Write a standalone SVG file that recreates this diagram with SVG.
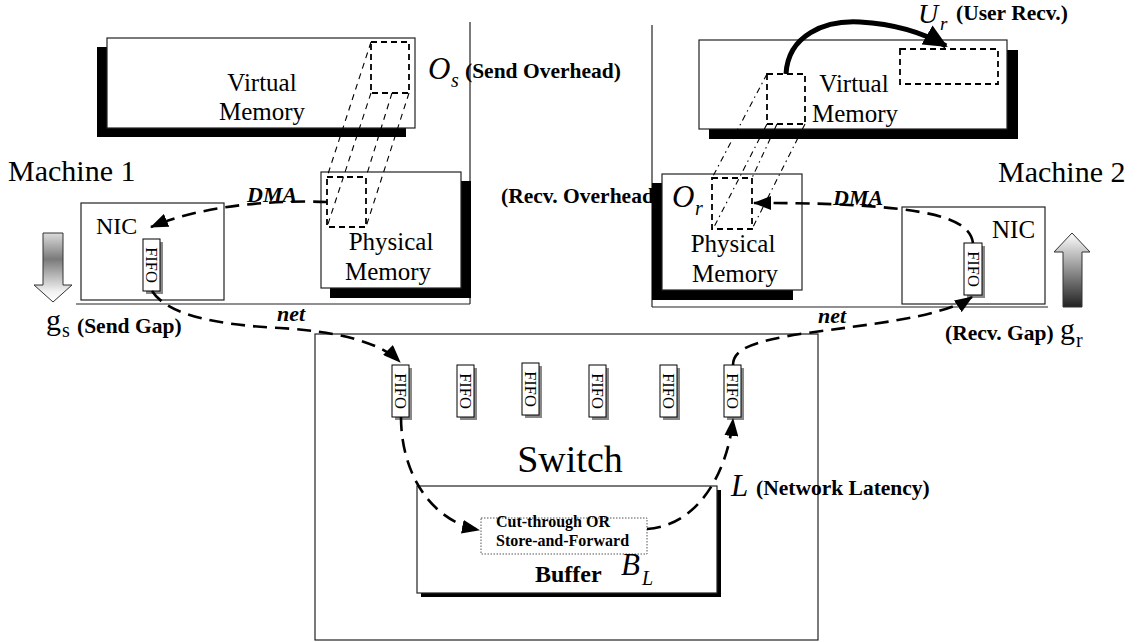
<svg xmlns="http://www.w3.org/2000/svg" width="1137" height="642" viewBox="0 0 1137 642">
<style>
.box{fill:#fff;stroke:#222;stroke-width:1.2}
.sh{fill:#000}
.rule{stroke:#222;stroke-width:1.2;fill:none}
.t{font-family:"Liberation Serif",serif;fill:#000}
.b{font-family:"Liberation Serif",serif;font-weight:bold;fill:#000}
.i{font-family:"Liberation Serif",serif;font-style:italic;fill:#000}
.bi{font-family:"Liberation Serif",serif;font-style:italic;font-weight:bold;fill:#000}
.dsq{fill:none;stroke:#000;stroke-width:1.8;stroke-dasharray:6 4}
.proj{fill:none;stroke:#000;stroke-width:1.1;stroke-dasharray:6 5}
.projd{fill:none;stroke:#000;stroke-width:1.1;stroke-dasharray:6 4 1.5 4}
.flow{fill:none;stroke:#000;stroke-width:2.6;stroke-dasharray:14 8}
.fifo{fill:#fff;stroke:#000;stroke-width:1}
.fsh{fill:#888}
.ft{font-family:"Liberation Serif",serif;font-size:16.5px;fill:#000}
</style>
<defs>
<marker id="ah" markerUnits="userSpaceOnUse" markerWidth="18" markerHeight="14" refX="17" refY="7" orient="auto">
<path d="M0,0 L18,7 L0,14 Z" fill="#000"/>
</marker>
<marker id="ahBig" markerUnits="userSpaceOnUse" markerWidth="24" markerHeight="22" refX="22" refY="11" orient="auto">
<path d="M0,0 L24,11 L0,22 Z" fill="#000"/>
</marker>
<linearGradient id="gDown" x1="0" y1="0" x2="0" y2="1">
<stop offset="0" stop-color="#dcdcdc"/>
<stop offset="0.38" stop-color="#7a7a7a"/>
<stop offset="0.85" stop-color="#f2f2f2"/>
<stop offset="1" stop-color="#fff"/>
</linearGradient>
<linearGradient id="gUp" x1="0" y1="0" x2="0" y2="1">
<stop offset="0" stop-color="#fff"/>
<stop offset="1" stop-color="#222"/>
</linearGradient>
</defs>

<!-- machine brackets -->
<g id="machine1">
<line class="rule" x1="470" y1="22" x2="470" y2="304"/>
<line class="rule" x1="76" y1="304" x2="470" y2="304"/>
<text class="t" x="8" y="181" font-size="30">Machine 1</text>
</g>
<g id="machine2">
<line class="rule" x1="652" y1="25" x2="652" y2="307"/>
<line class="rule" x1="652" y1="307" x2="1048" y2="307"/>
<text class="t" x="998" y="182" font-size="30">Machine 2</text>
</g>

<!-- Machine 1 -->
<g id="vm1">
<rect class="sh" x="97" y="47" width="309" height="90"/>
<rect class="box" x="107" y="38" width="308" height="90"/>
<text class="t" x="262" y="91" font-size="25" text-anchor="middle">Virtual</text>
<text class="t" x="262" y="120" font-size="25" text-anchor="middle">Memory</text>
<rect class="dsq" x="371" y="42" width="38" height="51"/>
</g>
<g id="pm1">
<rect class="sh" x="330" y="181" width="141" height="117"/>
<rect class="box" x="321" y="172" width="140" height="116"/>
<text class="t" x="391" y="250" font-size="25" text-anchor="middle">Physical</text>
<text class="t" x="388" y="280" font-size="25" text-anchor="middle">Memory</text>
<rect class="dsq" x="327" y="177" width="39" height="50"/>
</g>
<g id="proj1">
<line class="proj" x1="371" y1="42" x2="327" y2="177"/>
<line class="proj" x1="371" y1="93" x2="327" y2="227"/>
<line class="proj" x1="392" y1="93" x2="366" y2="177"/>
<line class="proj" x1="409" y1="93" x2="366" y2="227"/>
</g>
<g id="os-label">
<text class="i" x="428" y="79" font-size="31">O</text>
<text class="i" x="451" y="87" font-size="20">s</text>
<text class="b" x="465" y="78" font-size="21.5">(Send Overhead)</text>
</g>
<g id="nic1">
<rect class="box" x="81" y="203" width="143" height="97"/>
<text class="t" x="96" y="234" font-size="24">NIC</text>
<rect class="fsh" x="146" y="242" width="17" height="52"/>
<rect class="fifo" x="143" y="239" width="17" height="52"/>
<text class="ft" transform="translate(151.5,265) rotate(90)" text-anchor="middle" dominant-baseline="central">FIFO</text>
</g>
<g id="gap-send">
<path d="M43,233 L63,233 L63,285 L72,285 L53,302 L34,285 L43,285 Z" fill="url(#gDown)" stroke="#333" stroke-width="1"/>
<text class="t" x="46" y="330" font-size="30">g</text>
<text class="t" x="62" y="337" font-size="20">s</text>
<text class="b" x="77" y="333" font-size="21.5">(Send Gap)</text>
</g>

<!-- Machine 2 -->
<g id="recv-overhead-label">
<text class="b" x="501" y="203" font-size="21.5">(Recv. Overhead)</text>
</g>
<g id="vm2">
<rect class="sh" x="709" y="50" width="309" height="89"/>
<rect class="box" x="699" y="40" width="308" height="89"/>
<text class="t" x="854" y="92" font-size="25" text-anchor="middle">Virtual</text>
<text class="t" x="855" y="122" font-size="25" text-anchor="middle">Memory</text>
<rect class="dsq" x="767" y="74" width="38" height="50"/>
<rect class="dsq" x="900" y="49" width="98" height="35"/>
</g>
<g id="pm2">
<rect class="sh" x="652" y="183" width="141" height="117"/>
<rect class="box" x="662" y="174" width="140" height="116"/>
<text class="t" x="733" y="252" font-size="25" text-anchor="middle">Physical</text>
<text class="t" x="735" y="282" font-size="25" text-anchor="middle">Memory</text>
<rect class="dsq" x="712" y="178" width="40" height="51"/>
</g>
<g id="or-label">
<text class="i" x="672" y="207" font-size="31">O</text>
<text class="i" x="695" y="215" font-size="20">r</text>
</g>
<g id="proj2">
<line class="projd" x1="767" y1="74" x2="712" y2="178"/>
<line class="projd" x1="767" y1="124" x2="713" y2="229"/>
<line class="projd" x1="777" y1="124" x2="752" y2="178"/>
<line class="projd" x1="805" y1="124" x2="752" y2="229"/>
</g>
<g id="ur-label">
<text class="i" x="918" y="23" font-size="28">U</text>
<text class="i" x="940" y="30" font-size="19">r</text>
<text class="b" x="956" y="20" font-size="21.5">(User Recv.)</text>
</g>
<g id="nic2">
<rect class="box" x="902" y="207" width="143" height="97"/>
<text class="t" x="992" y="238" font-size="25">NIC</text>
<rect class="fsh" x="967" y="246" width="18" height="52"/>
<rect class="fifo" x="964" y="243" width="18" height="52"/>
<text class="ft" transform="translate(973,269) rotate(90)" text-anchor="middle" dominant-baseline="central">FIFO</text>
</g>
<g id="gap-recv">
<path d="M1072,233 L1090,252 L1082,252 L1082,307 L1063,307 L1063,252 L1054,252 Z" fill="url(#gUp)" stroke="#333" stroke-width="1"/>
<text class="b" x="945" y="340" font-size="21.5">(Recv. Gap)</text>
<text class="t" x="1060" y="339" font-size="30">g</text>
<text class="t" x="1076" y="347" font-size="20">r</text>
</g>

<!-- Switch -->
<g id="switch">
<rect class="box" x="315" y="334" width="503" height="306"/>
<text class="t" x="570" y="472" font-size="38" text-anchor="middle">Switch</text>
</g>
<g id="switch-fifos">
<rect class="fsh" x="395" y="368" width="17" height="52"/><rect class="fifo" x="392" y="365" width="17" height="52"/>
<text class="ft" transform="translate(400.5,391) rotate(90)" text-anchor="middle" dominant-baseline="central">FIFO</text>
<rect class="fsh" x="460" y="368" width="17" height="52"/><rect class="fifo" x="457" y="365" width="17" height="52"/>
<text class="ft" transform="translate(465.5,391) rotate(90)" text-anchor="middle" dominant-baseline="central">FIFO</text>
<rect class="fsh" x="525" y="366" width="17" height="52"/><rect class="fifo" x="522" y="363" width="17" height="52"/>
<text class="ft" transform="translate(530.5,389) rotate(90)" text-anchor="middle" dominant-baseline="central">FIFO</text>
<rect class="fsh" x="592" y="368" width="17" height="52"/><rect class="fifo" x="589" y="365" width="17" height="52"/>
<text class="ft" transform="translate(597.5,391) rotate(90)" text-anchor="middle" dominant-baseline="central">FIFO</text>
<rect class="fsh" x="663" y="368" width="17" height="52"/><rect class="fifo" x="660" y="365" width="17" height="52"/>
<text class="ft" transform="translate(668.5,391) rotate(90)" text-anchor="middle" dominant-baseline="central">FIFO</text>
<rect class="fsh" x="727" y="368" width="17" height="52"/><rect class="fifo" x="724" y="365" width="17" height="52"/>
<text class="ft" transform="translate(732.5,391) rotate(90)" text-anchor="middle" dominant-baseline="central">FIFO</text>
</g>
<g id="buffer">
<rect class="sh" x="421" y="490" width="300" height="107"/>
<rect class="box" x="417" y="486" width="300" height="107"/>
<rect x="481" y="518" width="166" height="36" fill="#fff" stroke="#555" stroke-width="1" stroke-dasharray="1.5 1.5"/>
<text class="b" x="496" y="527" font-size="16">Cut-through OR</text>
<text class="b" x="496" y="546" font-size="16">Store-and-Forward</text>
<text class="b" x="535" y="582" font-size="24">Buffer</text>
<text class="i" x="621" y="575" font-size="31">B</text>
<text class="i" x="642" y="585" font-size="20">L</text>
</g>
<g id="latency-label">
<text class="i" x="731" y="496" font-size="31">L</text>
<text class="b" x="756" y="495" font-size="21.5">(Network Latency)</text>
</g>

<!-- connectors -->
<g id="connectors">
<path class="flow" d="M327,202 C280,200 205,204 151,227" marker-end="url(#ah)"/>
<path class="flow" d="M973,243 C970,220 935,212 880,207 C830,203 790,203 754,203" marker-end="url(#ah)"/>
<path class="flow" d="M152,291 C168,316 220,325 280,328 C330,331 378,340 400,362" marker-end="url(#ah)"/>
<path class="flow" d="M733,365 C733,350 750,342 800,334 C870,324 940,318 972,297" marker-end="url(#ah)"/>
<path class="flow" d="M401,417 C401,470 428,520 479,530" marker-end="url(#ah)"/>
<path class="flow" d="M647,529 C700,525 728,470 733,419" marker-end="url(#ah)"/>
<path d="M786,74 C788,35 825,20 860,22 C895,24 922,32 946,46" fill="none" stroke="#000" stroke-width="5" marker-end="url(#ahBig)"/>
<text class="bi" x="247" y="202" font-size="22">DMA</text>
<text class="bi" x="833" y="205" font-size="22">DMA</text>
<text class="bi" x="277" y="321" font-size="22">net</text>
<text class="bi" x="818" y="323" font-size="22">net</text>
</g>
</svg>
